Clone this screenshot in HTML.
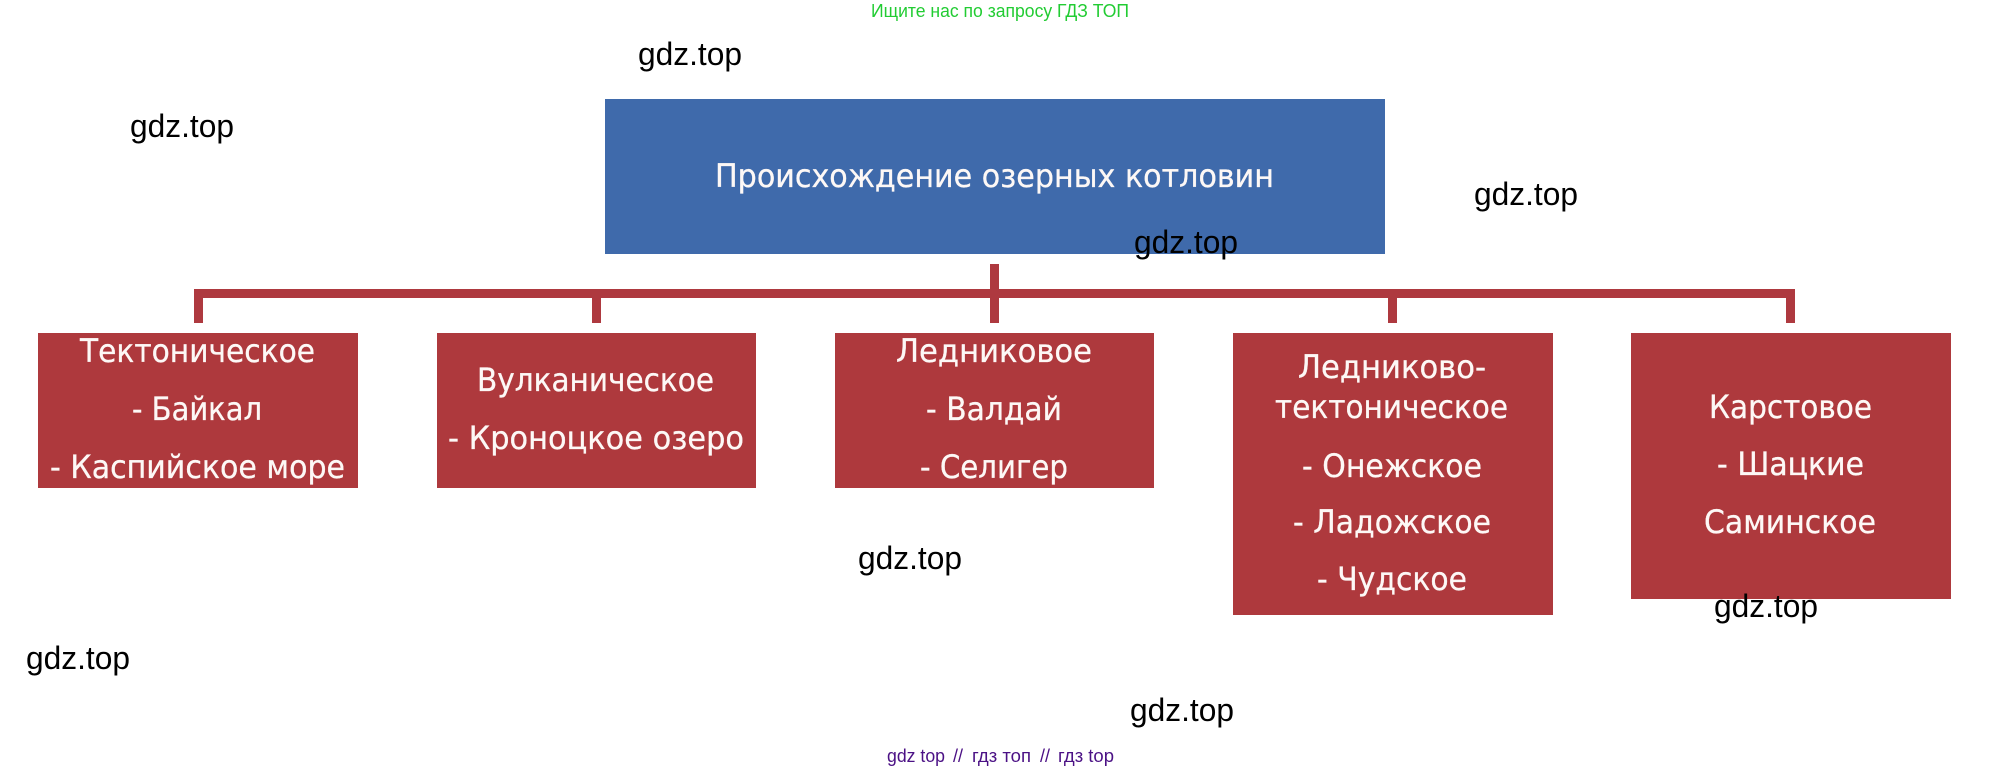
<!DOCTYPE html>
<html lang="ru">
<head>
<meta charset="utf-8">
<title>Происхождение озерных котловин</title>
<style>
html,body{margin:0;padding:0;background:#fff;width:2003px;height:771px;overflow:hidden}
svg{display:block}
.b{font-family:"DejaVu Sans",sans-serif;font-size:32px;fill:#fdf8f6;stroke:#fdf8f6;stroke-width:.3px}
.w{font-family:"Liberation Sans",sans-serif;font-size:32px;fill:#000}
.f{font-family:"Liberation Sans",sans-serif;font-size:18px;fill:#4b1185}
</style>
</head>
<body>
<svg width="2003" height="771" viewBox="0 0 2003 771" xmlns="http://www.w3.org/2000/svg">
<rect width="2003" height="771" fill="#fff"/>
<rect x="605" y="99" width="780" height="155" fill="#3f6aab"/>
<g fill="#ae393f">
<rect x="990" y="264" width="9" height="30"/>
<rect x="194" y="289" width="1601" height="9"/>
<rect x="194" y="289" width="9" height="34"/>
<rect x="592" y="289" width="9" height="34"/>
<rect x="990" y="289" width="9" height="34"/>
<rect x="1388" y="289" width="9" height="34"/>
<rect x="1786" y="289" width="9" height="34"/>
</g>
<g fill="#ae393d">
<rect x="38" y="333" width="320" height="155"/>
<rect x="437" y="333" width="319" height="155"/>
<rect x="835" y="333" width="319" height="155"/>
<rect x="1233" y="333" width="320" height="282"/>
<rect x="1631" y="333" width="320" height="266"/>
</g>
<g class="b">
<text x="715" y="187" textLength="559" lengthAdjust="spacingAndGlyphs">Происхождение озерных котловин</text>
<text x="80" y="362" textLength="235" lengthAdjust="spacingAndGlyphs">Тектоническое</text>
<text x="132" y="420" textLength="130" lengthAdjust="spacingAndGlyphs">- Байкал</text>
<text x="50" y="478" textLength="295" lengthAdjust="spacingAndGlyphs">- Каспийское море</text>
<text x="477" y="391" textLength="237" lengthAdjust="spacingAndGlyphs">Вулканическое</text>
<text x="448" y="449" textLength="296" lengthAdjust="spacingAndGlyphs">- Кроноцкое озеро</text>
<text x="896" y="362" textLength="196" lengthAdjust="spacingAndGlyphs">Ледниковое</text>
<text x="926" y="420" textLength="136" lengthAdjust="spacingAndGlyphs">- Валдай</text>
<text x="920" y="478" textLength="148" lengthAdjust="spacingAndGlyphs">- Селигер</text>
<text x="1298" y="378" textLength="188" lengthAdjust="spacingAndGlyphs">Ледниково-</text>
<text x="1275" y="418" textLength="233" lengthAdjust="spacingAndGlyphs">тектоническое</text>
<text x="1302" y="477" textLength="180" lengthAdjust="spacingAndGlyphs">- Онежское</text>
<text x="1293" y="533" textLength="198" lengthAdjust="spacingAndGlyphs">- Ладожское</text>
<text x="1317" y="590" textLength="150" lengthAdjust="spacingAndGlyphs">- Чудское</text>
<text x="1709" y="418" textLength="163" lengthAdjust="spacingAndGlyphs">Карстовое</text>
<text x="1717" y="475" textLength="147" lengthAdjust="spacingAndGlyphs">- Шацкие</text>
<text x="1704" y="533" textLength="172" lengthAdjust="spacingAndGlyphs">Саминское</text>
</g>
<g class="w">
<text x="638" y="65" textLength="104" lengthAdjust="spacingAndGlyphs">gdz.top</text>
<text x="130" y="137" textLength="104" lengthAdjust="spacingAndGlyphs">gdz.top</text>
<text x="1474" y="205" textLength="104" lengthAdjust="spacingAndGlyphs">gdz.top</text>
<text x="1134" y="253" textLength="104" lengthAdjust="spacingAndGlyphs">gdz.top</text>
<text x="858" y="569" textLength="104" lengthAdjust="spacingAndGlyphs">gdz.top</text>
<text x="26" y="669" textLength="104" lengthAdjust="spacingAndGlyphs">gdz.top</text>
<text x="1130" y="721" textLength="104" lengthAdjust="spacingAndGlyphs">gdz.top</text>
<text x="1714" y="617" textLength="104" lengthAdjust="spacingAndGlyphs">gdz.top</text>
</g>
<text x="871" y="17" textLength="258" lengthAdjust="spacingAndGlyphs" font-family="'Liberation Sans',sans-serif" font-size="18" fill="#22cc33">Ищите нас по запросу ГДЗ ТОП</text>
<g class="f">
<text x="887" y="762" textLength="58" lengthAdjust="spacingAndGlyphs">gdz top</text>
<text x="953" y="762" textLength="10" lengthAdjust="spacingAndGlyphs">//</text>
<text x="972" y="762" textLength="59" lengthAdjust="spacingAndGlyphs">гдз топ</text>
<text x="1040" y="762" textLength="10" lengthAdjust="spacingAndGlyphs">//</text>
<text x="1058" y="762" textLength="56" lengthAdjust="spacingAndGlyphs">гдз top</text>
</g>
</svg>
</body>
</html>
